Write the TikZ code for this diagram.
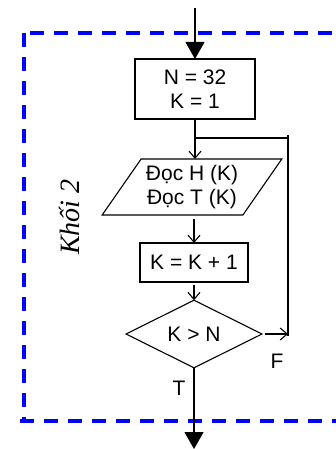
\documentclass[tikz,border=0pt]{standalone}
\usepackage{fontspec}
\newfontfamily\flowfont{Liberation Sans}
\newfontfamily\blkfont{Liberation Serif}
\usetikzlibrary{shapes.geometric,arrows.meta}
\begin{document}
\begin{tikzpicture}[x=1pt,y=-1pt,
  flow/.style={draw=black,line width=1.1pt,font=\flowfont\fontsize{21}{24}\selectfont,align=center,inner sep=0pt,outer sep=0pt},
  procbox/.style={flow,rectangle},
  iobox/.style={flow,trapezium,trapezium stretches=true,trapezium left angle=51,trapezium right angle=129},
  decbox/.style={flow,diamond},
  conn/.style={line width=1.1pt,draw=black},
  smallarrow/.style={conn,-{Straight Barb[length=7pt,width=12pt,line width=1.1pt]}},
  bigarrow/.style={conn,-{Triangle[length=17pt,width=19pt]}},
  lbl/.style={font=\flowfont\fontsize{21}{24}\selectfont,inner sep=0pt},
  blk/.style={draw=blue,line width=4pt,dash pattern=on 14pt off 10pt}
]
\useasboundingbox (0,0) rectangle (335,449);
% dashed block border
\draw[blk] (30,33) -- (340,33);
\draw[blk] (24,33) -- (24,421);
\draw[blk] (20,421) -- (340,421);
\node[rotate=90,font=\blkfont\fontsize{28}{32}\selectfont\itshape,inner sep=0pt] (blkname) at (69,217) {Khối 2};
% nodes
\node[procbox,minimum width=120pt,minimum height=60pt] (init) at (195,89) {N = 32\\K = 1};
\node[iobox,minimum width=180pt,minimum height=56pt] (read) at (192,187) {Đọc H (K)\\Đọc T (K)};
\node[procbox,minimum width=108pt,minimum height=39pt] (inc) at (194,262.5) {K = K + 1};
\node[decbox,minimum width=136pt,minimum height=52pt] (cond) at (194,334) {\raisebox{-2pt}{K > N}};
\node[lbl] (flbl) at (277,361) {F};
\node[lbl] (tlbl) at (179,388) {T};
% coordinates
\coordinate (start) at (195,8);
\coordinate (j) at (194,138);
\coordinate (jr) at (288,138);
\coordinate (jtop) at (288,135);
\coordinate (fr) at (288,334);
\coordinate (fbot) at (288,336);
\coordinate (finish) at (194,449);
% connectors
\draw[bigarrow] (start) -- (init.north);
\draw[smallarrow] (init.south) -- (init.south |- read.north);
\draw[conn] (j) -- (jr);
\draw[conn] (jtop) -- (fbot);
\draw[smallarrow,shorten <=3pt] (cond.east) -- (fr);
\draw[smallarrow,shorten <=4pt] (read.south -| inc.north) -- (inc.north);
\draw[smallarrow,shorten <=3pt] (inc.south) -- (cond.north);
\draw[bigarrow] (cond.south) -- (finish);
\end{tikzpicture}
\end{document}
